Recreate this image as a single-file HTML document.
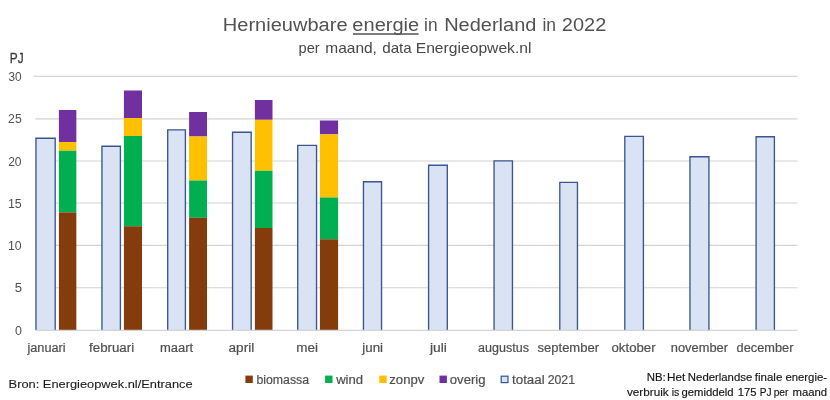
<!DOCTYPE html>
<html lang="nl"><head><meta charset="utf-8"><title>Hernieuwbare energie in Nederland in 2022</title>
<style>html,body{margin:0;padding:0;background:#fff}svg{display:block}text{font-family:"Liberation Sans", sans-serif}</style></head><body>
<svg width="830" height="400" viewBox="0 0 830 400">
<rect width="830" height="400" fill="#fff"/>
<line x1="35.3" x2="797.5" y1="287.75" y2="287.75" stroke="#d4d4d4" stroke-width="1.15"/>
<line x1="35.3" x2="797.5" y1="245.40" y2="245.40" stroke="#d4d4d4" stroke-width="1.15"/>
<line x1="35.3" x2="797.5" y1="203.00" y2="203.00" stroke="#d4d4d4" stroke-width="1.15"/>
<line x1="35.3" x2="797.5" y1="161.00" y2="161.00" stroke="#d4d4d4" stroke-width="1.15"/>
<line x1="35.3" x2="797.5" y1="118.85" y2="118.85" stroke="#d4d4d4" stroke-width="1.15"/>
<line x1="33.5" x2="797.5" y1="76.35" y2="76.35" stroke="#d4d4d4" stroke-width="1.15"/>
<path d="M35.95 330.00V138.20H55.20V330.00" fill="#dae3f3" stroke="#3a5590" stroke-width="1.35"/>
<path d="M101.95 330.00V146.20H120.40V330.00" fill="#dae3f3" stroke="#3a5590" stroke-width="1.35"/>
<path d="M167.70 330.00V129.90H185.40V330.00" fill="#dae3f3" stroke="#3a5590" stroke-width="1.35"/>
<path d="M232.55 330.00V132.20H251.20V330.00" fill="#dae3f3" stroke="#3a5590" stroke-width="1.35"/>
<path d="M297.70 330.00V145.40H316.55V330.00" fill="#dae3f3" stroke="#3a5590" stroke-width="1.35"/>
<path d="M363.45 330.00V181.70H381.55V330.00" fill="#dae3f3" stroke="#3a5590" stroke-width="1.35"/>
<path d="M428.60 330.00V165.20H447.30V330.00" fill="#dae3f3" stroke="#3a5590" stroke-width="1.35"/>
<path d="M494.05 330.00V160.90H512.45V330.00" fill="#dae3f3" stroke="#3a5590" stroke-width="1.35"/>
<path d="M559.80 330.00V182.40H577.45V330.00" fill="#dae3f3" stroke="#3a5590" stroke-width="1.35"/>
<path d="M624.80 330.00V136.40H643.40V330.00" fill="#dae3f3" stroke="#3a5590" stroke-width="1.35"/>
<path d="M689.95 330.00V156.70H708.95V330.00" fill="#dae3f3" stroke="#3a5590" stroke-width="1.35"/>
<path d="M756.10 330.00V136.70H774.40V330.00" fill="#dae3f3" stroke="#3a5590" stroke-width="1.35"/>
<rect x="58.90" y="110.00" width="17.45" height="32.00" fill="#7030a0"/>
<rect x="58.90" y="142.00" width="17.45" height="8.75" fill="#ffc000"/>
<rect x="58.90" y="150.75" width="17.45" height="61.65" fill="#00b050"/>
<rect x="58.90" y="212.40" width="17.45" height="117.60" fill="#843c0c"/>
<rect x="123.90" y="90.50" width="18.10" height="27.50" fill="#7030a0"/>
<rect x="123.90" y="118.00" width="18.10" height="18.00" fill="#ffc000"/>
<rect x="123.90" y="136.00" width="18.10" height="90.25" fill="#00b050"/>
<rect x="123.90" y="226.25" width="18.10" height="103.75" fill="#843c0c"/>
<rect x="189.10" y="112.00" width="17.90" height="24.50" fill="#7030a0"/>
<rect x="189.10" y="136.50" width="17.90" height="44.00" fill="#ffc000"/>
<rect x="189.10" y="180.50" width="17.90" height="37.25" fill="#00b050"/>
<rect x="189.10" y="217.75" width="17.90" height="112.25" fill="#843c0c"/>
<rect x="254.90" y="100.00" width="17.60" height="19.80" fill="#7030a0"/>
<rect x="254.90" y="119.80" width="17.60" height="50.95" fill="#ffc000"/>
<rect x="254.90" y="170.75" width="17.60" height="57.25" fill="#00b050"/>
<rect x="254.90" y="228.00" width="17.60" height="102.00" fill="#843c0c"/>
<rect x="319.90" y="120.50" width="18.20" height="13.90" fill="#7030a0"/>
<rect x="319.90" y="134.40" width="18.20" height="63.10" fill="#ffc000"/>
<rect x="319.90" y="197.50" width="18.20" height="41.75" fill="#00b050"/>
<rect x="319.90" y="239.25" width="18.20" height="90.75" fill="#843c0c"/>
<line x1="35.3" x2="797.5" y1="330.35" y2="330.35" stroke="#d4d4d4" stroke-width="1.15"/>
<line x1="353" x2="418.5" y1="33.9" y2="33.9" stroke="#525252" stroke-width="1.5"/>
<rect x="245.40" y="375.6" width="7.4" height="7.4" fill="#843c0c"/>
<rect x="325.10" y="375.6" width="7.4" height="7.4" fill="#00b050"/>
<rect x="379.30" y="375.6" width="7.4" height="7.4" fill="#ffc000"/>
<rect x="439.50" y="375.6" width="7.4" height="7.4" fill="#7030a0"/>
<rect x="501.2" y="376.2" width="6.8" height="6.4" fill="#dae3f3" stroke="#2f5597" stroke-width="1.2"/>
<text x="14.90" y="334.85" font-size="11.90" fill="#505050" textLength="6.93" lengthAdjust="spacingAndGlyphs">0</text>
<text x="14.79" y="292.25" font-size="11.90" fill="#505050" textLength="7.29" lengthAdjust="spacingAndGlyphs">5</text>
<text x="7.95" y="249.90" font-size="11.90" fill="#505050" textLength="13.59" lengthAdjust="spacingAndGlyphs">10</text>
<text x="7.93" y="207.50" font-size="11.90" fill="#505050" textLength="13.84" lengthAdjust="spacingAndGlyphs">15</text>
<text x="8.17" y="165.50" font-size="11.90" fill="#505050" textLength="13.40" lengthAdjust="spacingAndGlyphs">20</text>
<text x="8.10" y="123.35" font-size="11.90" fill="#505050" textLength="13.58" lengthAdjust="spacingAndGlyphs">25</text>
<text x="8.43" y="80.85" font-size="11.90" fill="#505050" textLength="13.12" lengthAdjust="spacingAndGlyphs">30</text>
<text x="9.86" y="63.00" font-size="15.30" fill="#3a3a3a" stroke="#3a3a3a" stroke-width="0.30" textLength="13.81" lengthAdjust="spacingAndGlyphs">PJ</text>
<text x="222.76" y="30.50" font-size="19.20" fill="#525252" textLength="124.83" lengthAdjust="spacingAndGlyphs">Hernieuwbare</text>
<text x="352.36" y="30.50" font-size="19.20" fill="#525252" textLength="66.81" lengthAdjust="spacingAndGlyphs">energie</text>
<text x="424.04" y="30.50" font-size="19.20" fill="#525252" textLength="13.47" lengthAdjust="spacingAndGlyphs">in</text>
<text x="444.15" y="30.50" font-size="19.20" fill="#525252" textLength="92.24" lengthAdjust="spacingAndGlyphs">Nederland</text>
<text x="542.48" y="30.50" font-size="19.20" fill="#525252" textLength="13.61" lengthAdjust="spacingAndGlyphs">in</text>
<text x="561.88" y="30.50" font-size="19.20" fill="#525252" textLength="44.38" lengthAdjust="spacingAndGlyphs">2022</text>
<text x="298.58" y="53.00" font-size="14.60" fill="#484848" textLength="21.13" lengthAdjust="spacingAndGlyphs">per</text>
<text x="325.26" y="53.00" font-size="14.60" fill="#484848" textLength="51.69" lengthAdjust="spacingAndGlyphs">maand,</text>
<text x="382.19" y="53.00" font-size="14.60" fill="#484848" textLength="29.61" lengthAdjust="spacingAndGlyphs">data</text>
<text x="415.72" y="53.00" font-size="14.60" fill="#484848" textLength="115.76" lengthAdjust="spacingAndGlyphs">Energieopwek.nl</text>
<text x="27.41" y="351.70" font-size="12.00" fill="#505050" stroke="#505050" stroke-width="0.20" textLength="38.19" lengthAdjust="spacingAndGlyphs">januari</text>
<text x="89.09" y="351.70" font-size="12.00" fill="#505050" stroke="#505050" stroke-width="0.20" textLength="45.00" lengthAdjust="spacingAndGlyphs">februari</text>
<text x="160.05" y="351.70" font-size="12.00" fill="#505050" stroke="#505050" stroke-width="0.20" textLength="33.20" lengthAdjust="spacingAndGlyphs">maart</text>
<text x="228.57" y="351.70" font-size="12.00" fill="#505050" stroke="#505050" stroke-width="0.20" textLength="25.64" lengthAdjust="spacingAndGlyphs">april</text>
<text x="296.16" y="351.70" font-size="12.00" fill="#505050" stroke="#505050" stroke-width="0.20" textLength="21.75" lengthAdjust="spacingAndGlyphs">mei</text>
<text x="362.34" y="351.70" font-size="12.00" fill="#505050" stroke="#505050" stroke-width="0.20" textLength="20.75" lengthAdjust="spacingAndGlyphs">juni</text>
<text x="430.01" y="351.70" font-size="12.00" fill="#505050" stroke="#505050" stroke-width="0.20" textLength="16.95" lengthAdjust="spacingAndGlyphs">juli</text>
<text x="478.10" y="351.70" font-size="12.00" fill="#505050" stroke="#505050" stroke-width="0.20" textLength="50.86" lengthAdjust="spacingAndGlyphs">augustus</text>
<text x="537.55" y="351.70" font-size="12.00" fill="#505050" stroke="#505050" stroke-width="0.20" textLength="61.46" lengthAdjust="spacingAndGlyphs">september</text>
<text x="611.52" y="351.70" font-size="12.00" fill="#505050" stroke="#505050" stroke-width="0.20" textLength="44.04" lengthAdjust="spacingAndGlyphs">oktober</text>
<text x="670.80" y="351.70" font-size="12.00" fill="#505050" stroke="#505050" stroke-width="0.20" textLength="57.21" lengthAdjust="spacingAndGlyphs">november</text>
<text x="736.64" y="351.70" font-size="12.00" fill="#505050" stroke="#505050" stroke-width="0.20" textLength="56.86" lengthAdjust="spacingAndGlyphs">december</text>
<text x="8.58" y="388.40" font-size="11.80" fill="#1a1a1a" stroke="#1a1a1a" stroke-width="0.10" textLength="184.08" lengthAdjust="spacingAndGlyphs">Bron: Energieopwek.nl/Entrance</text>
<text x="256.48" y="383.50" font-size="12.30" fill="#505050" stroke="#505050" stroke-width="0.20" textLength="52.57" lengthAdjust="spacingAndGlyphs">biomassa</text>
<text x="336.16" y="383.50" font-size="12.30" fill="#505050" stroke="#505050" stroke-width="0.20" textLength="26.93" lengthAdjust="spacingAndGlyphs">wind</text>
<text x="389.27" y="383.50" font-size="12.30" fill="#505050" stroke="#505050" stroke-width="0.20" textLength="35.04" lengthAdjust="spacingAndGlyphs">zonpv</text>
<text x="449.82" y="383.50" font-size="12.30" fill="#505050" stroke="#505050" stroke-width="0.20" textLength="35.72" lengthAdjust="spacingAndGlyphs">overig</text>
<text x="512.04" y="383.50" font-size="12.30" fill="#505050" stroke="#505050" stroke-width="0.20" textLength="32.59" lengthAdjust="spacingAndGlyphs">totaal</text>
<text x="547.65" y="383.50" font-size="12.30" fill="#505050" stroke="#505050" stroke-width="0.20" textLength="27.32" lengthAdjust="spacingAndGlyphs">2021</text>
<text x="646.71" y="380.60" font-size="10.80" fill="#151515" stroke="#151515" stroke-width="0.15" textLength="19.00" lengthAdjust="spacingAndGlyphs">NB:</text>
<text x="667.02" y="380.60" font-size="10.80" fill="#151515" stroke="#151515" stroke-width="0.15" textLength="18.19" lengthAdjust="spacingAndGlyphs">Het</text>
<text x="687.88" y="380.60" font-size="10.80" fill="#151515" stroke="#151515" stroke-width="0.15" textLength="64.34" lengthAdjust="spacingAndGlyphs">Nederlandse</text>
<text x="754.74" y="380.60" font-size="10.80" fill="#151515" stroke="#151515" stroke-width="0.15" textLength="27.60" lengthAdjust="spacingAndGlyphs">finale</text>
<text x="785.43" y="380.60" font-size="10.80" fill="#151515" stroke="#151515" stroke-width="0.15" textLength="41.61" lengthAdjust="spacingAndGlyphs">energie-</text>
<text x="626.95" y="395.60" font-size="10.80" fill="#151515" stroke="#151515" stroke-width="0.15" textLength="41.68" lengthAdjust="spacingAndGlyphs">verbruik</text>
<text x="671.80" y="395.60" font-size="10.80" fill="#151515" stroke="#151515" stroke-width="0.15" textLength="7.58" lengthAdjust="spacingAndGlyphs">is</text>
<text x="681.44" y="395.60" font-size="10.80" fill="#151515" stroke="#151515" stroke-width="0.15" textLength="52.13" lengthAdjust="spacingAndGlyphs">gemiddeld</text>
<text x="737.72" y="395.60" font-size="10.80" fill="#151515" stroke="#151515" stroke-width="0.15" textLength="18.76" lengthAdjust="spacingAndGlyphs">175</text>
<text x="759.72" y="395.60" font-size="10.80" fill="#151515" stroke="#151515" stroke-width="0.15" textLength="11.81" lengthAdjust="spacingAndGlyphs">PJ</text>
<text x="773.71" y="395.60" font-size="10.80" fill="#151515" stroke="#151515" stroke-width="0.15" textLength="14.74" lengthAdjust="spacingAndGlyphs">per</text>
<text x="792.46" y="395.60" font-size="10.80" fill="#151515" stroke="#151515" stroke-width="0.15" textLength="34.62" lengthAdjust="spacingAndGlyphs">maand</text>
</svg></body></html>
